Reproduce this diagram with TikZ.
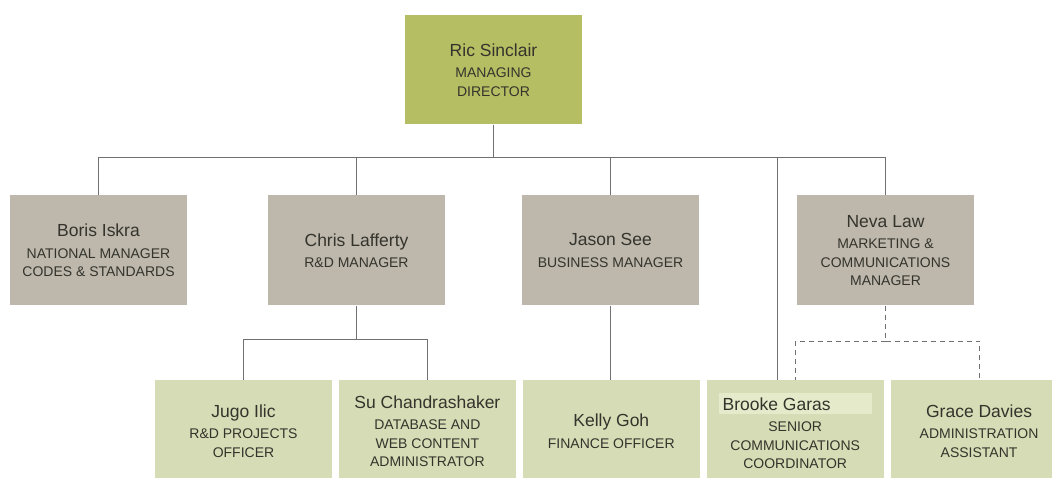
\documentclass[tikz,border=0pt]{standalone}
\usepackage{fontspec}
\setmainfont{Liberation Sans}
\usetikzlibrary{positioning}

\definecolor{mdgreen}{RGB}{181,190,99}
\definecolor{mgrgray}{RGB}{189,183,172}
\definecolor{stgreen}{RGB}{214,220,181}
\definecolor{hilite}{RGB}{228,234,202}
\definecolor{txtgray}{RGB}{52,52,44}
\definecolor{linegray}{RGB}{112,112,112}

\newcommand{\pname}[1]{{\fontsize{17.5}{20}\selectfont #1}\\[3pt]}

\begin{document}
\begin{tikzpicture}[x=1pt,y=-1pt,
    box/.style={rectangle,minimum width=177pt,minimum height=110pt,inner sep=0pt,align=center,text=txtgray,font=\fontsize{14}{18.5}\selectfont},
    md/.style={box,fill=mdgreen,minimum height=109pt},
    mgr/.style={box,fill=mgrgray},
    staff/.style={box,fill=stgreen,minimum height=102pt},
    link/.style={draw=linegray,line width=1pt},
    dashlink/.style={link,dash pattern=on 5pt off 4pt}]

    \useasboundingbox (0,0) rectangle (1052,478);

    % managing director
    \node[md] (ric) at (493.5,70) {\pname{Ric Sinclair}MANAGING\\DIRECTOR};

    % managers
    \node[mgr] (boris) at (98.5,250.5) {\pname{Boris Iskra}NATIONAL MANAGER\\CODES \& STANDARDS};
    \node[mgr] (chris) at (356.5,250.5) {\pname{Chris Lafferty}R\&D MANAGER};
    \node[mgr] (jason) at (610.5,250.5) {\pname{Jason See}BUSINESS MANAGER};
    \node[mgr] (neva) at (885.5,250.5) {\pname{Neva Law}MARKETING \&\\COMMUNICATIONS\\MANAGER};

    % staff
    \node[staff] (jugo) at (243.5,431) {\pname{Jugo Ilic}R\&D PROJECTS\\OFFICER};
    \node[staff] (su) [right=6.5pt of jugo] {\pname{Su Chandrashaker}DATABASE AND\\WEB CONTENT\\ADMINISTRATOR};
    \node[staff] (kelly) [right=6.5pt of su] {\pname{Kelly Goh}FINANCE OFFICER};
    \node[staff] (brooke) [right=6.5pt of kelly] {\pname{\setlength{\fboxsep}{4pt}\colorbox{hilite}{\makebox[145pt][l]{Brooke Garas}}}SENIOR\\COMMUNICATIONS\\COORDINATOR};
    \node[staff] (grace) [right=6.5pt of brooke] {\pname{Grace Davies}ADMINISTRATION\\ASSISTANT};

    % lines
    \coordinate (bus) at (ric.south |- 0,158);
    \coordinate (btap) at (777,158);
    \coordinate (rdbus) at (chris.south |- 0,339);
    \coordinate (mkbus) at (neva.south |- 0,341);

    \draw[link] (ric) -- (bus);
    \draw[link] (bus) -| (boris);
    \draw[link] (bus) -| (chris);
    \draw[link] (bus) -| (jason);
    \draw[link] (bus) -| (neva);
    \draw[link] (btap) -- (btap |- brooke.north);

    \draw[link] (chris) -- (rdbus);
    \draw[link] (rdbus) -| (jugo);
    \draw[link] (rdbus) -| (su);
    \draw[link] (jason) -- (jason |- kelly.north);

    \draw[dashlink] (neva) -- (mkbus);
    \draw[dashlink] (mkbus) -| (brooke);
    \draw[dashlink] (mkbus) -| (grace);

\end{tikzpicture}
\end{document}
